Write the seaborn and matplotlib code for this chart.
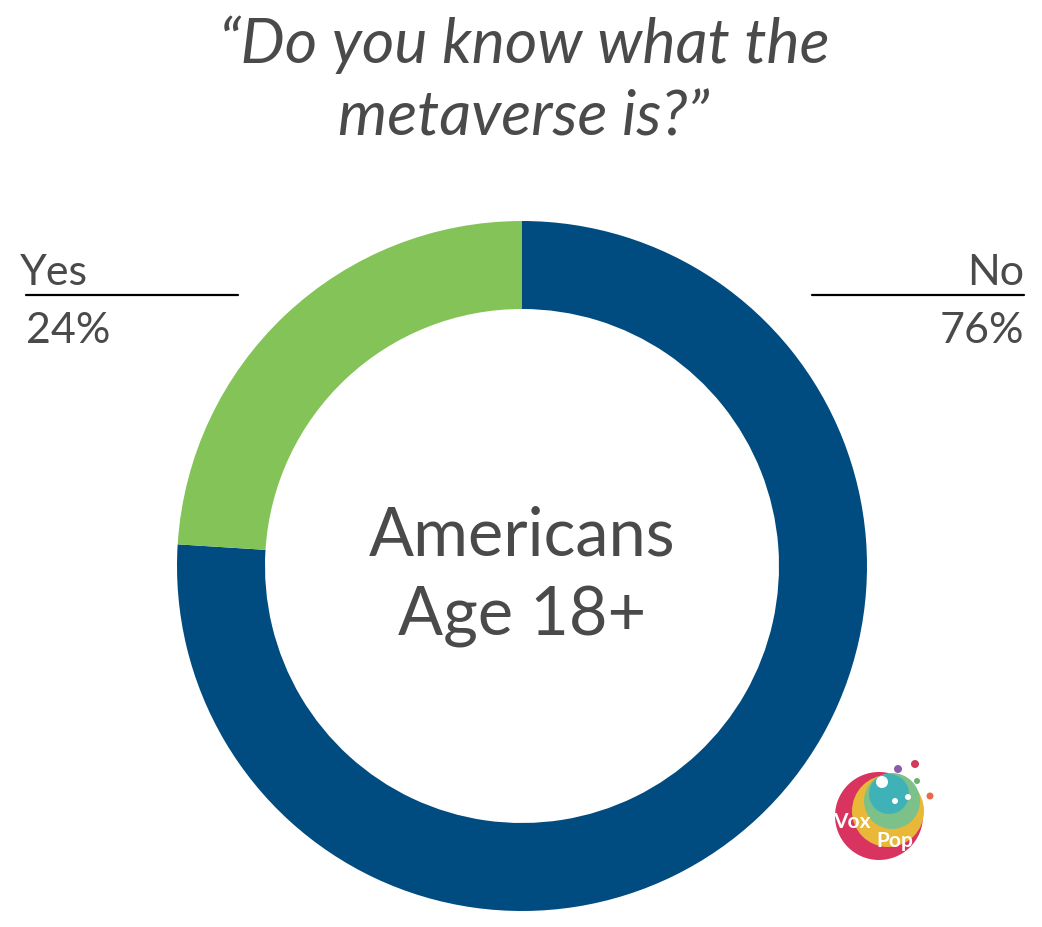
import matplotlib
matplotlib.use("Agg")
import matplotlib.pyplot as plt
import seaborn as sns
from matplotlib.patches import Circle

# ---- data ----
categories = ["No", "Yes"]
values = [76, 24]
colors = ["#004b80", "#84c358"]
title_lines = ["\u201cDo you know what the", "metaverse is?\u201d"]
center_text = ["Americans", "Age 18+"]

sns.set_theme(style="white")
plt.rcParams["font.family"] = ["Lato", "DejaVu Sans"]

W, H = 1042, 928
fig = plt.figure(figsize=(W / 100, H / 100), dpi=100)
ax = fig.add_axes([0, 0, 1, 1])

def Y(py):
    return H - py

cx, cy, R = 522, 567, 345
width = 88
ax.pie(values, colors=colors, startangle=90, counterclock=False,
       center=(cx, Y(cy)), radius=R,
       wedgeprops=dict(width=width, linewidth=0))
ax.set_xlim(0, W)
ax.set_ylim(0, H)
ax.set_aspect("equal")
ax.axis("off")

txt = "#4a4a4a"
# title
ax.text(524, Y(63), title_lines[0], ha="center", va="baseline", fontsize=45,
        style="italic", color=txt)
ax.text(524, Y(135), title_lines[1], ha="center", va="baseline", fontsize=45,
        style="italic", color=txt)

# centre label
ax.text(522, Y(556), center_text[0], ha="center", va="baseline", fontsize=48, color=txt)
ax.text(522, Y(636), center_text[1], ha="center", va="baseline", fontsize=48, color=txt)

# side labels
lab_fs = 31
ax.text(20, Y(285), categories[1], ha="left", va="baseline", fontsize=lab_fs, color=txt)
ax.plot([26, 238], [Y(296), Y(296)], color="black", lw=1.6)
ax.text(26, Y(343), f"{values[1]}%", ha="left", va="baseline", fontsize=lab_fs, color=txt)

ax.text(1024, Y(285), categories[0], ha="right", va="baseline", fontsize=lab_fs, color=txt)
ax.plot([812, 1024], [Y(296), Y(296)], color="black", lw=1.6)
ax.text(1024, Y(343), f"{values[0]}%", ha="right", va="baseline", fontsize=lab_fs, color=txt)

# logo approximation
ax.add_patch(Circle((879, Y(817)), 44, color="#d8345f", lw=0, zorder=5))
ax.add_patch(Circle((888, Y(812)), 36, color="#e9b838", lw=0, zorder=6))
ax.add_patch(Circle((892, Y(802)), 28, color="#7cc08a", lw=0, zorder=7))
ax.add_patch(Circle((889, Y(795)), 20, color="#3fb2b8", lw=0, zorder=7))
for (px, py, r, c) in [(898, 770, 4, "#8c5aa8"), (915, 765, 4, "#d03a5c"),
                       (917, 782, 3, "#6fb070"), (930, 797, 3.5, "#e66b4a"),
                       (882, 783, 6, "white"), (895, 802, 3, "white"),
                       (908, 798, 3, "white")]:
    ax.add_patch(Circle((px, Y(py)), r, color=c, lw=0, zorder=8))
ax.text(852, Y(828), "Vox", ha="center", va="baseline", fontsize=15, color="white",
        weight="bold", zorder=9)
ax.text(895, Y(847), "Pop", ha="center", va="baseline", fontsize=15, color="white",
        weight="bold", zorder=9)

fig.savefig("out.png", dpi=100, facecolor="white")
